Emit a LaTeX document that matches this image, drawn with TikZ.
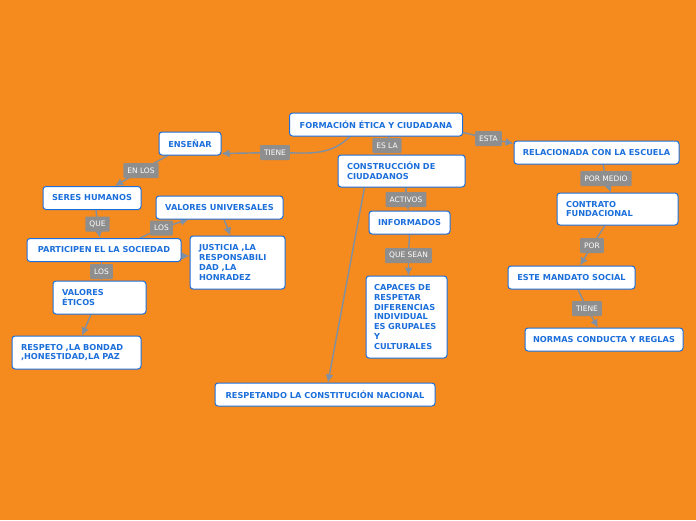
\documentclass[tikz,border=0pt]{standalone}
\usepackage{fontspec}
\setmainfont{DejaVu Sans}
\usetikzlibrary{arrows.meta,calc,positioning,backgrounds}
\definecolor{bgorange}{HTML}{F58A1F}
\definecolor{nodeblue}{HTML}{1C6FDB}
\definecolor{tagsgray}{HTML}{8E8E8E}
\definecolor{linegray}{HTML}{8090A4}
\tikzstyle{concept} = [rectangle,rounded corners=3pt,fill=white,draw=nodeblue,line width=1pt,text=nodeblue,font=\fontsize{8.2}{9.8}\selectfont\bfseries,minimum height=23pt,inner xsep=7pt,inner ysep=2pt]
\tikzstyle{multi} = [concept,align=left,inner xsep=9pt]
\tikzstyle{tag} = [rectangle,rounded corners=1pt,fill=tagsgray,text=white,font=\fontsize{7.5}{8}\selectfont,minimum height=15pt,inner xsep=4pt,inner ysep=1pt]
\tikzstyle{link} = [draw=linegray,line width=1.4pt]

\begin{document}
\begin{tikzpicture}[x=1pt,y=-1pt,>={Latex[length=8pt,width=8pt]}]
\useasboundingbox (0,0) rectangle (696,520);

\node (formacion) [concept,minimum width=173pt] at (376,124.5) {FORMACIÓN ÉTICA Y CIUDADANA};
\node (ensenar) [concept,minimum width=62pt] at (190,143.5) {ENSEÑAR};
\node (seres) [concept,minimum width=98pt] at (92,198) {SERES HUMANOS};
\node (valoresu) [concept,minimum width=127pt] at (219.5,207.5) {VALORES UNIVERSALES};
\node (participen) [concept,minimum width=154pt] at (104,250) {PARTICIPEN EL LA SOCIEDAD};
\node (justicia) [multi,text width=77pt,minimum height=53pt] at (237.5,262.5) {JUSTICIA ,LA\\RESPONSABILI\\DAD ,LA\\HONRADEZ};
\node (valorese) [multi,text width=75pt,minimum height=33pt] at (99.5,297.5) {VALORES\\ÉTICOS};
\node (respeto) [multi,text width=111pt,minimum height=33pt] at (76.5,352.5) {RESPETO ,LA BONDAD\\,HONESTIDAD,LA PAZ};
\node (construccion) [multi,text width=109pt,minimum height=32pt] at (401.5,171) {CONSTRUCCIÓN DE\\CIUDADANOS};
\node (informados) [concept,minimum width=81pt] at (409.5,222.5) {INFORMADOS};
\node (capaces) [multi,inner xsep=8pt,text width=65pt,minimum height=82pt] at (406.5,317) {CAPACES DE\\RESPETAR\\DIFERENCIAS\\INDIVIDUAL\\ES GRUPALES\\Y\\CULTURALES};
\node (respetando) [concept,minimum width=220pt] at (325,394.5) {RESPETANDO LA CONSTITUCIÓN NACIONAL};
\node (relacionada) [concept,minimum width=165pt] at (596.5,152.5) {RELACIONADA CON LA ESCUELA};
\node (contrato) [multi,text width=103pt,minimum height=32pt] at (617.5,209) {CONTRATO\\FUNDACIONAL};
\node (mandato) [concept,minimum width=127pt] at (571.5,277.5) {ESTE MANDATO SOCIAL};
\node (normas) [concept,minimum width=158pt] at (604,339.5) {NORMAS CONDUCTA Y REGLAS};

\node (tiene1) [tag] at (275,152.5) {TIENE};
\node (enlos) [tag] at (141,170.5) {EN LOS};
\node (que) [tag] at (97.5,224) {QUE};
\node (los1) [tag] at (161.5,228) {LOS};
\node (los2) [tag] at (101.5,271.5) {LOS};
\node (esla) [tag] at (387,145.5) {ES LA};
\node (esta) [tag] at (488.5,138.5) {ESTA};
\node (activos) [tag] at (406,199.5) {ACTIVOS};
\node (quesean) [tag] at (408.5,255.5) {QUE SEAN};
\node (pormedio) [tag] at (606,178.5) {POR MEDIO};
\node (por) [tag] at (592,245.5) {POR};
\node (tiene2) [tag] at (587,308.5) {TIENE};

\begin{pgfonlayer}{background}
\fill[bgorange] (0,0) rectangle (696,520);

\draw[link] ([xshift=-26pt]formacion.south) to[out=225,in=0] (tiene1.center);
\draw[link,->] (tiene1.center) -- ([yshift=-10pt]ensenar.east);
\draw[link] ([xshift=13pt]formacion.south) -- (esla.center);
\draw[link,->] (esla.center) -- (esla.center |- construccion.north);
\draw[link] ([yshift=-8pt]formacion.east) -- (esta.center);
\draw[link,->] (esta.center) -- ([yshift=9pt]relacionada.west);

\draw[link,->] ([xshift=-37pt]construccion.south) -- ([xshift=3pt]respetando.north);
\draw[link] (activos.center |- construccion.south) -- (activos.center);
\draw[link,->] (activos.center) -- ([xshift=-1pt]informados.north);
\draw[link] (informados.south) -- (quesean.center);
\draw[link,->] (quesean.center) -- (quesean.center |- capaces.north);

\draw[link] ([xshift=-22pt]ensenar.south) -- (enlos.center);
\draw[link,->] (enlos.center) -- ([xshift=23pt]seres.north);
\draw[link] ([xshift=4pt]seres.south) -- (que.center);
\draw[link,->] (que.center) -- ([xshift=-4pt]participen.north);
\draw[link] ([xshift=36pt]participen.north) -- (los1.center);
\draw[link,->] (los1.center) -- ([xshift=-31pt]valoresu.south);
\draw[link,->] ([xshift=4.5pt]valoresu.south) -- ([xshift=-7pt]justicia.north);
\draw[link,->] ([yshift=-6pt]participen.east) -- ([yshift=-6pt]participen.east -| justicia.west);
\draw[link] (los2.center |- participen.south) -- (los2.center);
\draw[link,->] (los2.center) -- (los2.center |- valorese.north);
\draw[link,->] ([xshift=-8.5pt]valorese.south) -- ([xshift=5.5pt]respeto.north);

\draw[link] ([xshift=6.5pt]relacionada.south) -- (pormedio.center);
\draw[link,->] (pormedio.center) -- ([xshift=-6.5pt]contrato.north);
\draw[link] ([xshift=-12.5pt]contrato.south) -- (por.center);
\draw[link,->] (por.center) -- ([xshift=8.5pt]mandato.north);
\draw[link] ([xshift=6.5pt]mandato.south) -- (tiene2.center);
\draw[link,->] (tiene2.center) -- ([xshift=-6pt]normas.north);
\end{pgfonlayer}

\end{tikzpicture}
\end{document}
